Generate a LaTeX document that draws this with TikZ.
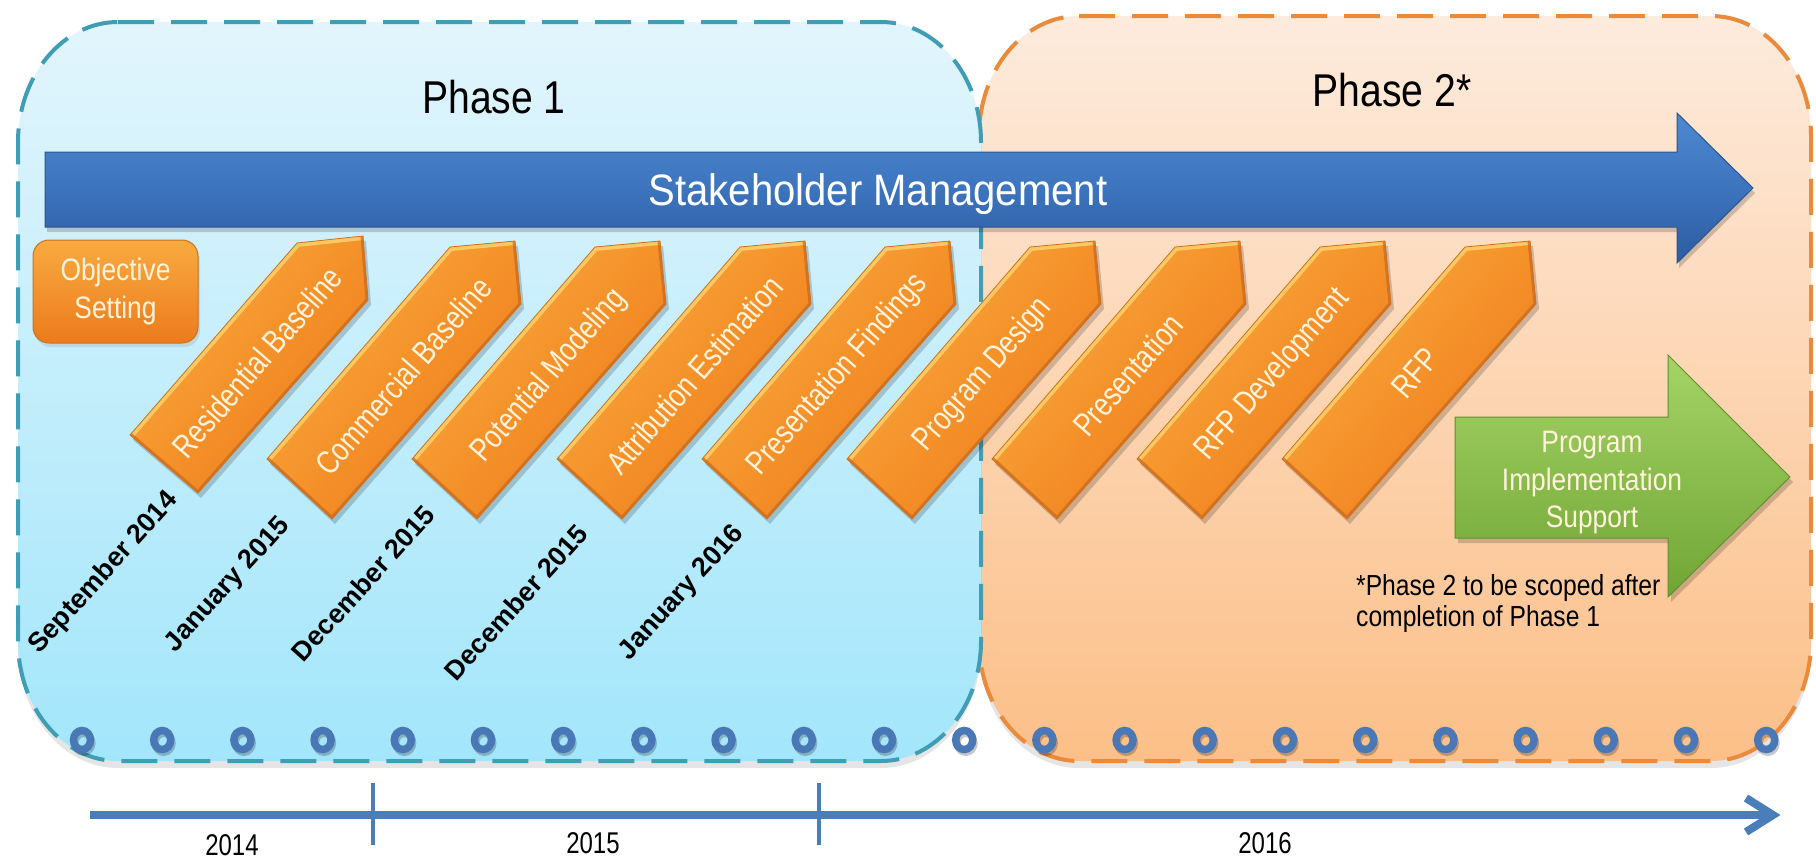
\documentclass[tikz,border=0pt]{standalone}
\usepackage{fontspec}
\setmainfont{Liberation Sans}
\newfontfamily\nar[FakeStretch=0.85]{Liberation Sans}
\newfontfamily\narch[FakeStretch=0.80]{Liberation Sans}
\newfontfamily\narstk[FakeStretch=0.91]{Liberation Sans}
\usetikzlibrary{shadows}
\definecolor{bxBlueTop}{HTML}{E2F5FC}
\definecolor{bxBlueBot}{HTML}{A3E6FB}
\definecolor{bxBlueLine}{HTML}{3F9DB5}
\definecolor{bxOrTop}{HTML}{FDEBDD}
\definecolor{bxOrBot}{HTML}{FCBF88}
\definecolor{bxOrLine}{HTML}{E98B3A}
\definecolor{stkTop}{HTML}{4F89D2}
\definecolor{stkMid}{HTML}{3C74BE}
\definecolor{stkBot}{HTML}{2D5C9F}
\definecolor{stkEdge}{HTML}{2A5590}
\definecolor{chevL}{HTML}{F8AA40}
\definecolor{chevM}{HTML}{F5922A}
\definecolor{chevD}{HTML}{EC7B1C}
\definecolor{chevHi}{HTML}{FCD26E}
\definecolor{chevLo}{HTML}{C9681C}
\definecolor{chevEdge}{HTML}{D0701F}
\definecolor{grTop}{HTML}{A5D466}
\definecolor{grBot}{HTML}{70A534}
\definecolor{grEdge}{HTML}{5F8F2F}
\definecolor{cream}{HTML}{FFF3DC}
\definecolor{tlBlue}{HTML}{4A7EBB}
\definecolor{ringBlue}{HTML}{4A78B6}

\newcommand{\chev}[5]{%
  \begin{scope}[shift={(3,5)}]\fill[chevshadow] (#1)--(#2)--(#3)--(#4)--(#5)--cycle;\end{scope}
  \path[chevfill] (#1)--(#2)--(#3)--(#4)--(#5)--cycle;
  \begin{scope}\clip (#1)--(#2)--(#3)--(#4)--(#5)--cycle;
    \draw[chevlight] (#3)--(#2)--(#1);
    \draw[chevdark] (#1)--(#5)--(#4)--(#3);
  \end{scope}
  \draw[chevedge] (#1)--(#2)--(#3)--(#4)--(#5)--cycle;
}

\begin{document}
\begin{tikzpicture}[x=1pt,y=-1pt,
  boxshadow/.style={fill=black, opacity=0.10},
  bluebox/.style={top color=bxBlueTop, bottom color=bxBlueBot},
  bluedash/.style={draw=bxBlueLine, line width=4pt, dash pattern=on 36pt off 17pt},
  orbox/.style={top color=bxOrTop, bottom color=bxOrBot},
  ordash/.style={draw=bxOrLine, line width=4pt, dash pattern=on 36pt off 17pt},
  stkarrow/.style={top color=stkTop, bottom color=stkBot, middle color=stkMid, draw=stkEdge, line width=1pt},
  chevshadow/.style={fill=black, opacity=0.18},
  chevfill/.style={top color=chevL, bottom color=chevD, middle color=chevM, shading angle=49},
  chevlight/.style={draw=chevHi, line width=8pt, opacity=0.85, line join=miter},
  chevdark/.style={draw=chevLo, line width=5pt, opacity=0.7, line join=miter},
  chevedge/.style={draw=chevEdge, line width=0.8pt, line join=miter},
  grarrow/.style={top color=grTop, bottom color=grBot, draw=grEdge, line width=1pt},
  phasetxt/.style={font=\nar\fontsize{46}{50}\selectfont, text=black, inner sep=0pt},
  stktxt/.style={font=\narstk\fontsize{44}{48}\selectfont, text=white, inner sep=0pt},
  chevtxt/.style={font=\narch\fontsize{33}{38}\selectfont, text=cream, inner sep=0pt, rotate=49},
  datetxt/.style={font=\bfseries\fontsize{27}{30}\selectfont, text=black, inner sep=0pt, rotate=48},
  objnode/.style={top color=chevL, bottom color=chevD, draw=chevEdge, line width=1pt, rounded corners=16pt,
     minimum width=165pt, minimum height=103pt, align=center, text=cream,
     font=\nar\fontsize{31}{38}\selectfont, inner sep=0pt,
     drop shadow={opacity=0.2, shadow xshift=2pt, shadow yshift=-4pt}},
  grtxt/.style={font=\nar\fontsize{31}{37.5}\selectfont, text=cream, align=center, inner sep=0pt},
  notetxt/.style={font=\nar\fontsize{29}{31}\selectfont, text=black, align=left, inner sep=0pt},
  yeartxt/.style={font=\narch\fontsize{30}{32}\selectfont, text=black, inner sep=0pt},
  ringshadow/.style={draw=black, opacity=0.22, line width=7pt},
  ring/.style={draw=ringBlue, line width=7.5pt},
  tl/.style={draw=tlBlue, line width=8pt},
  tltick/.style={draw=tlBlue, line width=3.5pt}
]
\useasboundingbox (0,0) rectangle (1816,860);
\fill[white] (0,0) rectangle (1816,860);

% ---------- Phase 2 box (orange) ----------
\begin{scope}[shift={(0,7)}]
\fill[boxshadow] (1079,16) -- (1711,16) arc[start angle=-90,end angle=0,x radius=100,y radius=120]
  -- (1811,641) arc[start angle=0,end angle=90,x radius=100,y radius=120]
  -- (1079,761) arc[start angle=90,end angle=180,x radius=100,y radius=120]
  -- (979,136) arc[start angle=180,end angle=270,x radius=100,y radius=120] -- cycle;
\end{scope}
\path[orbox] (1079,16) -- (1711,16) arc[start angle=-90,end angle=0,x radius=100,y radius=120]
  -- (1811,641) arc[start angle=0,end angle=90,x radius=100,y radius=120]
  -- (1079,761) arc[start angle=90,end angle=180,x radius=100,y radius=120]
  -- (979,136) arc[start angle=180,end angle=270,x radius=100,y radius=120] -- cycle;
\draw[ordash] (1079,16) -- (1711,16) arc[start angle=-90,end angle=0,x radius=100,y radius=120]
  -- (1811,641) arc[start angle=0,end angle=90,x radius=100,y radius=120]
  -- (1079,761) arc[start angle=90,end angle=180,x radius=100,y radius=120]
  -- (979,136) arc[start angle=180,end angle=270,x radius=100,y radius=120] -- cycle;

% ---------- Phase 1 box (blue) ----------
\begin{scope}[shift={(0,7)}]
\fill[boxshadow] (118,22) -- (881,22) arc[start angle=-90,end angle=0,x radius=100,y radius=120]
  -- (981,641) arc[start angle=0,end angle=90,x radius=100,y radius=120]
  -- (118,761) arc[start angle=90,end angle=180,x radius=100,y radius=120]
  -- (18,142) arc[start angle=180,end angle=270,x radius=100,y radius=120] -- cycle;
\end{scope}
\path[bluebox] (118,22) -- (881,22) arc[start angle=-90,end angle=0,x radius=100,y radius=120]
  -- (981,641) arc[start angle=0,end angle=90,x radius=100,y radius=120]
  -- (118,761) arc[start angle=90,end angle=180,x radius=100,y radius=120]
  -- (18,142) arc[start angle=180,end angle=270,x radius=100,y radius=120] -- cycle;
\draw[bluedash] (118,22) -- (881,22) arc[start angle=-90,end angle=0,x radius=100,y radius=120]
  -- (981,641) arc[start angle=0,end angle=90,x radius=100,y radius=120]
  -- (118,761) arc[start angle=90,end angle=180,x radius=100,y radius=120]
  -- (18,142) arc[start angle=180,end angle=270,x radius=100,y radius=120] -- cycle;

% ---------- titles ----------
\node[phasetxt] (p1) at (494,97) {Phase 1};
\node[phasetxt] (p2) at (1392,90) {Phase 2*};

% ---------- stakeholder arrow ----------
\begin{scope}[shift={(2,5)}]
\fill[chevshadow] (45,152) -- (1677,152) -- (1677,113) -- (1753,188) -- (1677,263) -- (1677,227) -- (45,227) -- cycle;
\end{scope}
\path[stkarrow] (45,152) -- (1677,152) -- (1677,113) -- (1753,188) -- (1677,263) -- (1677,227) -- (45,227) -- cycle;
\node[stktxt] (stk) at (878,194) {Stakeholder Management};

% ---------- objective ----------
\node[objnode] (obj) at (115.5,291.5) {Objective\\Setting};

% ---------- chevrons ----------
\chev{363,236}{297,243}{130,435}{198,493}{368,300}
\chev{515,241}{450,247}{267,459}{332,519}{521,304}
\chev{660,241}{595,247}{412,459}{477,519}{666,304}
\chev{805,241}{740,247}{557,459}{622,519}{811,304}
\chev{950,241}{885,247}{702,459}{767,519}{956,304}
\chev{1095,241}{1030,247}{847,459}{912,519}{1101,304}
\chev{1240,241}{1175,247}{992,459}{1057,519}{1246,304}
\chev{1385,241}{1320,247}{1137,459}{1202,519}{1391,304}
\chev{1530,241}{1465,247}{1282,459}{1347,519}{1536,304}

\node[chevtxt] (c1) at (257,362) {Residential Baseline};
\node[chevtxt] (c2) at (403,376) {Commercial Baseline};
\node[chevtxt] (c3) at (549,376) {Potential Modeling};
\node[chevtxt] (c4) at (694,375) {Attribution Estimation};
\node[chevtxt] (c5) at (838,375) {Presentation Findings};
\node[chevtxt] (c6) at (983,375) {Program Design};
\node[chevtxt] (c7) at (1128,375) {Presentation};
\node[chevtxt] (c8) at (1273,375) {RFP Development};
\node[chevtxt] (c9) at (1415,373) {RFP};

% ---------- dates ----------
\node[datetxt] (d1) at (104,573) {September 2014};
\node[datetxt] (d2) at (228,585) {January 2015};
\node[datetxt] (d3) at (363,583) {December 2015};
\node[datetxt] (d4) at (516,602) {December 2015};
\node[datetxt] (d5) at (682,593) {January 2016};

% ---------- green arrow ----------
\begin{scope}[shift={(3,5)}]
\fill[chevshadow] (1455,417) -- (1668,417) -- (1668,355) -- (1790,477) -- (1668,597) -- (1668,538) -- (1455,538) -- cycle;
\end{scope}
\path[grarrow] (1455,417) -- (1668,417) -- (1668,355) -- (1790,477) -- (1668,597) -- (1668,538) -- (1455,538) -- cycle;
\node[grtxt] (pis) at (1592,483) {Program\\Implementation\\Support};

\node[notetxt, anchor=north west] (note) at (1356,574) {*Phase 2 to be scoped after\\completion of Phase 1};

% ---------- rings ----------
\foreach \i in {0,...,21} {
  \draw[ringshadow] ({82+80.2*\i+1.5},743) ellipse [x radius=8.5, y radius=9.5];
  \draw[ring] ({82+80.2*\i},740) ellipse [x radius=8.5, y radius=9.5];
}

% ---------- timeline ----------
\draw[tl] (90,815) -- (1772,815);
\draw[tl, line join=miter] (1746,798) -- (1773,815) -- (1746,832);
\draw[tltick] (373,783) -- (373,845);
\draw[tltick] (819,783) -- (819,845);
\node[yeartxt] (y14) at (232,845) {2014};
\node[yeartxt] (y15) at (593,843) {2015};
\node[yeartxt] (y16) at (1265,843) {2016};
\end{tikzpicture}
\end{document}
